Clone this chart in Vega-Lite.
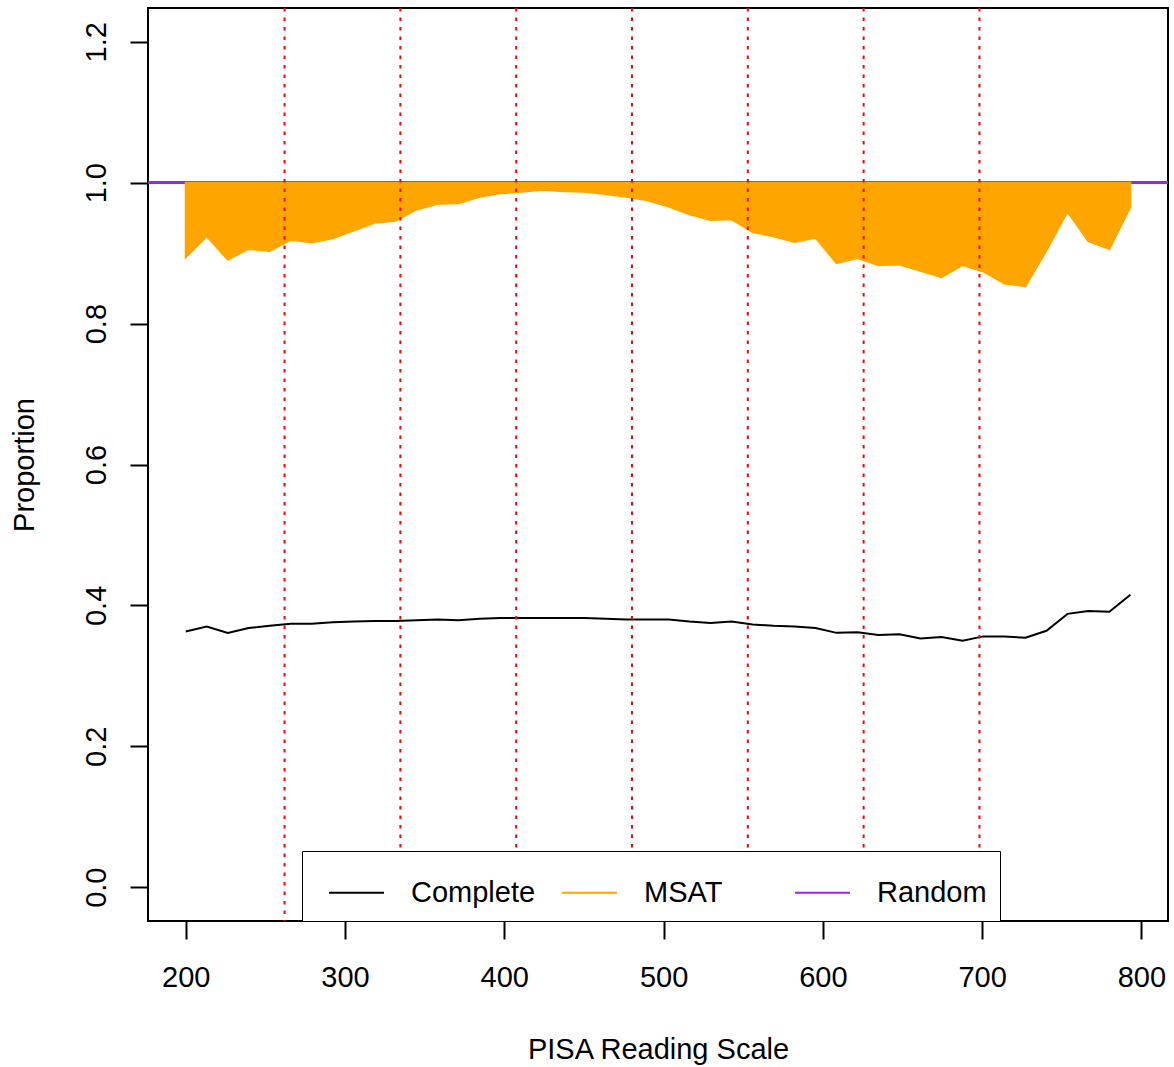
{
  "$schema": "https://vega.github.io/schema/vega-lite/v6.json",
  "width": 1020,
  "height": 913,
  "autosize": {"type": "none"},
  "padding": {"left": 148, "top": 8, "right": 6, "bottom": 146},
  "background": "white",
  "config": {
    "view": {"stroke": "black", "strokeWidth": 2},
    "font": "Liberation Sans",
    "axis": {
      "grid": false, "domain": false, "tickColor": "black", "tickWidth": 2, "tickSize": 18,
      "labelFont": "Liberation Sans", "labelFontSize": 29, "labelColor": "black",
      "titleFont": "Liberation Sans", "titleFontSize": 29, "titleFontWeight": "normal", "titleColor": "black"
    }
  },
  "datasets": {
    "curves": [
      {"x": 200.0, "msat": 0.894, "complete": 0.363},
      {"x": 213.2, "msat": 0.924, "complete": 0.370},
      {"x": 226.4, "msat": 0.891, "complete": 0.361},
      {"x": 239.5, "msat": 0.906, "complete": 0.368},
      {"x": 252.7, "msat": 0.903, "complete": 0.371},
      {"x": 265.9, "msat": 0.919, "complete": 0.374},
      {"x": 279.1, "msat": 0.915, "complete": 0.374},
      {"x": 292.3, "msat": 0.921, "complete": 0.376},
      {"x": 305.4, "msat": 0.932, "complete": 0.377},
      {"x": 318.6, "msat": 0.943, "complete": 0.378},
      {"x": 331.8, "msat": 0.946, "complete": 0.378},
      {"x": 345.0, "msat": 0.962, "complete": 0.379},
      {"x": 358.2, "msat": 0.970, "complete": 0.380},
      {"x": 371.3, "msat": 0.971, "complete": 0.379},
      {"x": 384.5, "msat": 0.980, "complete": 0.381},
      {"x": 397.7, "msat": 0.985, "complete": 0.382},
      {"x": 410.9, "msat": 0.987, "complete": 0.382},
      {"x": 424.1, "msat": 0.990, "complete": 0.382},
      {"x": 437.2, "msat": 0.988, "complete": 0.382},
      {"x": 450.4, "msat": 0.987, "complete": 0.382},
      {"x": 463.6, "msat": 0.984, "complete": 0.381},
      {"x": 476.8, "msat": 0.980, "complete": 0.380},
      {"x": 490.0, "msat": 0.975, "complete": 0.380},
      {"x": 503.1, "msat": 0.966, "complete": 0.380},
      {"x": 516.3, "msat": 0.955, "complete": 0.377},
      {"x": 529.5, "msat": 0.947, "complete": 0.375},
      {"x": 542.7, "msat": 0.948, "complete": 0.377},
      {"x": 555.9, "msat": 0.930, "complete": 0.373},
      {"x": 569.0, "msat": 0.924, "complete": 0.371},
      {"x": 582.2, "msat": 0.916, "complete": 0.370},
      {"x": 595.4, "msat": 0.922, "complete": 0.368},
      {"x": 608.6, "msat": 0.886, "complete": 0.361},
      {"x": 621.8, "msat": 0.893, "complete": 0.362},
      {"x": 634.9, "msat": 0.883, "complete": 0.358},
      {"x": 648.1, "msat": 0.884, "complete": 0.359},
      {"x": 661.3, "msat": 0.875, "complete": 0.353},
      {"x": 674.5, "msat": 0.866, "complete": 0.355},
      {"x": 687.7, "msat": 0.883, "complete": 0.350},
      {"x": 700.8, "msat": 0.874, "complete": 0.356},
      {"x": 714.0, "msat": 0.857, "complete": 0.356},
      {"x": 727.2, "msat": 0.853, "complete": 0.354},
      {"x": 740.4, "msat": 0.904, "complete": 0.364},
      {"x": 753.6, "msat": 0.959, "complete": 0.388},
      {"x": 766.7, "msat": 0.917, "complete": 0.392},
      {"x": 779.9, "msat": 0.906, "complete": 0.391},
      {"x": 793.1, "msat": 0.966, "complete": 0.415}
    ],
    "levels": [
      {"cut": 262.04}, {"cut": 334.75}, {"cut": 407.47}, {"cut": 480.18},
      {"cut": 552.89}, {"cut": 625.61}, {"cut": 698.32}
    ]
  },
  "layer": [
    {
      "data": {"name": "curves"},
      "mark": {"type": "rule", "color": "#A020F0", "strokeWidth": 2},
      "encoding": {
        "y": {"datum": 1, "type": "quantitative", "scale": {"domain": [-0.048, 1.248], "nice": false, "zero": false}, "title": "Proportion"}
      }
    },
    {
      "data": {"name": "curves"},
      "mark": {"type": "area", "color": "#FFA500", "stroke": "#FFA500", "strokeWidth": 2, "opacity": 1},
      "encoding": {
        "x": {
          "field": "x", "type": "quantitative", "title": "PISA Reading Scale",
          "scale": {"domain": [176.3, 816.7], "nice": false, "zero": false},
          "axis": {"values": [200, 300, 400, 500, 600, 700, 800], "labelPadding": 24, "titleX": 510, "titleY": 137, "titleBaseline": "alphabetic", "titleAlign": "center"}
        },
        "y": {
          "field": "msat", "type": "quantitative", "title": "Proportion",
          "scale": {"domain": [-0.048, 1.248], "nice": false, "zero": false},
          "axis": {"values": [0, 0.2, 0.4, 0.6, 0.8, 1.0, 1.2], "format": ".1f", "labelAngle": -90, "labelAlign": "center", "labelBaseline": "alphabetic", "labelPadding": 25, "titleAngle": -90, "titleX": -114.5, "titleY": 456.5, "titleBaseline": "alphabetic", "titleAlign": "center"}
        },
        "y2": {"datum": 1}
      }
    },
    {
      "data": {"name": "curves"},
      "mark": {"type": "line", "strokeWidth": 2},
      "encoding": {
        "x": {"field": "x", "type": "quantitative", "title": "PISA Reading Scale", "scale": {"domain": [176.3, 816.7], "nice": false, "zero": false}},
        "y": {"field": "complete", "type": "quantitative", "title": "Proportion", "scale": {"domain": [-0.048, 1.248], "nice": false, "zero": false}},
        "color": {
          "datum": "Complete",
          "type": "nominal",
          "scale": {"domain": ["Complete", "MSAT", "Random"], "range": ["#000000", "#FFA500", "#A020F0"]},
          "legend": {
            "title": null, "orient": "none", "legendX": 154, "legendY": 843,
            "direction": "horizontal", "columns": 3, "gridAlign": "all",
            "symbolType": "stroke", "symbolSize": 3025, "symbolStrokeWidth": 2, "symbolOffset": 13,
            "labelFontSize": 29, "labelFont": "Liberation Sans", "labelColor": "black",
            "labelOffset": 26, "columnPadding": 12, "padding": 13,
            "strokeColor": "black", "fillColor": "white"
          }
        }
      }
    },
    {
      "data": {"name": "levels"},
      "mark": {"type": "rule", "color": "#FF0000", "strokeWidth": 2, "strokeDash": [3.5, 6]},
      "encoding": {
        "x": {"field": "cut", "type": "quantitative", "title": "PISA Reading Scale", "scale": {"domain": [176.3, 816.7], "nice": false, "zero": false}}
      }
    }
  ]
}
